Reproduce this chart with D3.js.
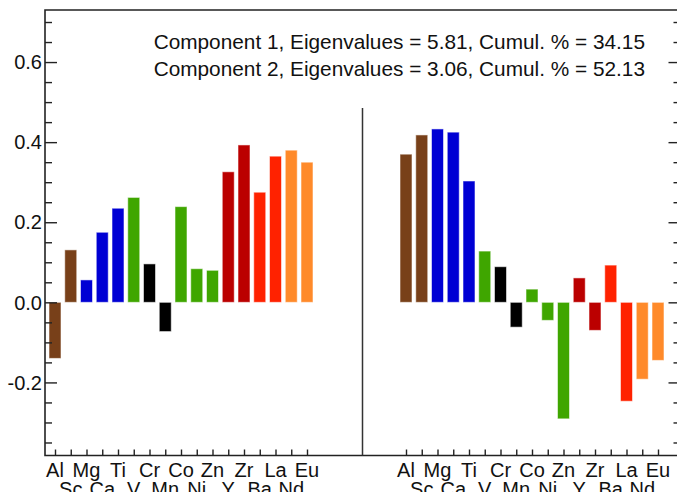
<!DOCTYPE html>
<html>
<head>
<meta charset="utf-8">
<script src="https://cdn.jsdelivr.net/npm/d3@7"></script>
<style>
  html, body { margin: 0; padding: 0; background: #fff; }
  svg { display: block; font-family: "Liberation Sans", Arial, sans-serif; }
</style>
</head>
<body>
<svg id="chart" width="677" height="492"></svg>
<script>
// ---- data ----
const elements = ["Al","Sc","Mg","Ca","Ti","V","Cr","Mn","Co","Ni","Zn","Y","Zr","Ba","La","Nd","Eu"];
const elementGroup = ["g1","g1","g2","g2","g2","g3","g4","g4","g3","g3","g3","g5","g5","g6","g6","g7","g7"];
const component1 = [-0.14, 0.131, 0.056, 0.175, 0.235, 0.262, 0.096, -0.073, 0.239, 0.084, 0.080, 0.326, 0.393, 0.275, 0.365, 0.380, 0.350];
const component2 = [0.370, 0.418, 0.433, 0.425, 0.303, 0.128, 0.089, -0.062, 0.033, -0.045, -0.291, 0.061, -0.070, 0.093, -0.247, -0.192, -0.145];
const componentIds = [1, 2];
const eigenvalues = [5.81, 3.06];
const cumulPercent = [34.15, 52.13];
const yMajorTicks = [-0.2, 0.0, 0.2, 0.4, 0.6];
const yTickLabels = ["-0.2", "0.0", "0.2", "0.4", "0.6"];

// ---- style ----
const groupColor = d3.scaleOrdinal()
  .domain(["g1","g2","g3","g4","g5","g6","g7"])
  .range(["#784019","#0000d4","#3fa600","#000000","#bb0000","#ff2200","#ff8a2a"]);

const svg = d3.select("#chart");
const frame = { left: 45, right: 680.5, top: 10, bottom: 455.5 };
const divider = { x: 362.5, top: 108 };
const font = 20;

const y = d3.scaleLinear().domain([-0.3825, 0.73]).range([frame.bottom, frame.top]);
const xLeft = d3.scalePoint().domain(elements).range([55, 307]);
const xRight = d3.scalePoint().domain(elements).range([406, 658]);
const barW = 12;

function drawPanel(xs, values) {
  const g = svg.append("g");
  g.selectAll("rect").data(elements).join("rect")
    .attr("x", d => xs(d) - barW / 2)
    .attr("width", barW)
    .attr("y", (d, i) => y(Math.max(0, values[i])))
    .attr("height", (d, i) => Math.abs(y(values[i]) - y(0)))
    .attr("fill", (d, i) => groupColor(elementGroup[i]))
    .attr("stroke", "rgba(255,255,255,0.55)")
    .attr("stroke-width", 1);
  // x ticks (inward)
  const ax = d3.axisTop(xs).tickSize(6).tickFormat("");
  const axg = g.append("g").attr("transform", `translate(0,${frame.bottom})`).call(ax);
  axg.select(".domain").remove();
  axg.selectAll("line").attr("stroke", "#222").attr("stroke-width", 1.4);
  // labels in two staggered rows
  g.selectAll("text.xl").data(elements).join("text")
    .attr("class", "xl")
    .attr("x", d => xs(d))
    .attr("y", (d, i) => i % 2 === 0 ? 477 : 496)
    .attr("text-anchor", "middle")
    .attr("font-size", font)
    .attr("fill", "#111")
    .text(d => d);
}

drawPanel(xLeft, component1);
drawPanel(xRight, component2);

// y axes: left (with labels) and right (mirrored, no labels)
const minorTicks = d3.range(-0.35, 0.7001, 0.05).map(v => +v.toFixed(2))
  .filter(v => !yMajorTicks.some(m => Math.abs(m - v) < 1e-6));

const leftMinor = svg.append("g").attr("transform", `translate(${frame.left},0)`)
  .call(d3.axisRight(y).tickValues(minorTicks).tickSize(7).tickFormat(""));
const leftMajor = svg.append("g").attr("transform", `translate(${frame.left},0)`)
  .call(d3.axisRight(y).tickValues(yMajorTicks).tickSize(12).tickFormat(""));
const rightMinor = svg.append("g").attr("transform", `translate(${frame.right},0)`)
  .call(d3.axisLeft(y).tickValues(minorTicks).tickSize(7).tickFormat(""));
const rightMajor = svg.append("g").attr("transform", `translate(${frame.right},0)`)
  .call(d3.axisLeft(y).tickValues(yMajorTicks).tickSize(12).tickFormat(""));
[leftMinor, leftMajor, rightMinor, rightMajor].forEach(a => {
  a.select(".domain").remove();
  a.selectAll("line").attr("stroke", "#222").attr("stroke-width", 1.4);
});

svg.selectAll("text.yl").data(yMajorTicks).join("text")
  .attr("class", "yl")
  .attr("x", frame.left - 3)
  .attr("y", d => y(d))
  .attr("dy", "0.36em")
  .attr("text-anchor", "end")
  .attr("font-size", font)
  .attr("fill", "#111")
  .text((d, i) => yTickLabels[i]);

// frame
svg.append("path")
  .attr("d", `M${frame.right},${frame.top}H${frame.left}V${frame.bottom}H${frame.right}`)
  .attr("fill", "none").attr("stroke", "#222").attr("stroke-width", 1.6);
// divider between panels
svg.append("line")
  .attr("x1", divider.x).attr("x2", divider.x)
  .attr("y1", divider.top).attr("y2", frame.bottom)
  .attr("stroke", "#333").attr("stroke-width", 1.5);

// annotation
svg.selectAll("text.ann").data(componentIds).join("text")
  .attr("class", "ann")
  .attr("x", 645)
  .attr("y", (d, i) => 49 + i * 26.5)
  .attr("text-anchor", "end")
  .attr("font-size", 20.8)
  .attr("fill", "#111")
  .text((d, i) => `Component ${d}, Eigenvalues = ${eigenvalues[i].toFixed(2)}, Cumul. % = ${cumulPercent[i].toFixed(2)}`);
</script>
</body>
</html>
